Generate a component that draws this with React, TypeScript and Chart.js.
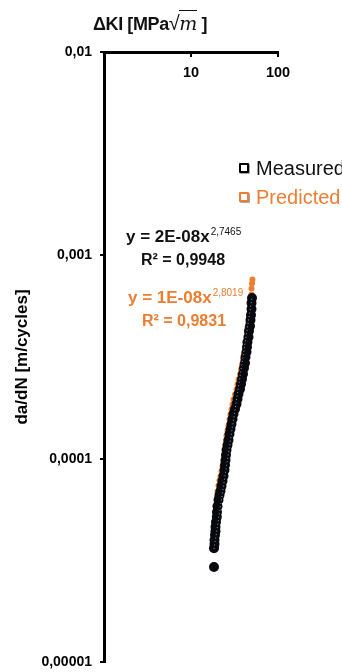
import React, { useEffect, useRef } from "react";
import { Chart, registerables } from "chart.js";

Chart.register(...registerables);

// ΔK [MPa√m]
const measuredK = [
  18.38, 18.38, 18.63, 18.63, 18.87, 19.12, 19.12, 19.38, 19.8, 19.9, 20.16, 20.71, 21.27, 21.83,
  22.42, 23.02, 23.64, 24.28, 24.6, 24.93, 25.26, 25.59, 26.28, 26.98, 27.71, 28.45, 29.21, 29.99,
  30.8, 32.04, 33.34, 34.23, 35.16, 36.58, 37.56, 38.57, 39.6, 40.67, 41.76, 42.31, 43.45, 44.03,
  44.61, 45.81, 46.42, 47.67, 48.3, 48.95, 49.6, 49.6, 50.24,
];
// da/dN [m/cycles]
const measuredRate = [
  2.93e-5, 3.63e-5, 3.8e-5, 3.98e-5, 4.21e-5, 4.4e-5, 4.61e-5, 4.88e-5, 5.16e-5, 5.46e-5, 5.84e-5,
  6.26e-5, 6.62e-5, 6.93e-5, 7.33e-5, 7.76e-5, 8.21e-5, 8.79e-5, 9.3e-5, 9.84e-5, 1.042e-4,
  1.102e-4, 1.166e-4, 1.234e-4, 1.321e-4, 1.398e-4, 1.479e-4, 1.566e-4, 1.657e-4, 1.754e-4,
  1.855e-4, 1.964e-4, 2.078e-4, 2.199e-4, 2.327e-4, 2.463e-4, 2.606e-4, 2.79e-4, 2.953e-4,
  3.16e-4, 3.344e-4, 3.539e-4, 3.745e-4, 3.963e-4, 4.242e-4, 4.489e-4, 4.805e-4, 5.085e-4,
  5.443e-4, 5.825e-4, 6.166e-4,
];

const predictedK = [
  18.38, 18.63, 18.63, 18.87, 19.12, 19.12, 19.38, 19.8, 19.9, 20.16, 20.71, 21.27, 21.83, 22.42,
  23.02, 23.64, 24.28, 24.6, 24.93, 25.26, 25.59, 26.28, 26.98, 27.71, 28.45, 29.21, 29.99, 30.8,
  32.04, 33.34, 34.23, 35.16, 36.58, 37.56, 38.57, 39.6, 40.67, 41.76, 42.31, 43.45, 44.03, 44.61,
  45.81, 46.42, 47.67, 48.3, 48.95, 49.6, 49.6, 50.24, 50.8,
];
const predictedRate = [
  4.28e-5, 4.48e-5, 4.7e-5, 4.97e-5, 5.19e-5, 5.44e-5, 5.76e-5, 6.09e-5, 6.44e-5, 6.89e-5,
  7.39e-5, 7.81e-5, 8.18e-5, 8.65e-5, 9.16e-5, 9.69e-5, 1.037e-4, 1.097e-4, 1.161e-4, 1.23e-4,
  1.3e-4, 1.376e-4, 1.456e-4, 1.559e-4, 1.65e-4, 1.745e-4, 1.848e-4, 1.955e-4, 2.07e-4, 2.189e-4,
  2.318e-4, 2.452e-4, 2.595e-4, 2.746e-4, 2.906e-4, 3.075e-4, 3.292e-4, 3.485e-4, 3.729e-4,
  3.946e-4, 4.176e-4, 4.419e-4, 4.676e-4, 5.006e-4, 5.297e-4, 5.67e-4, 6.0e-4, 6.423e-4,
  6.874e-4, 7.276e-4, 7.6e-4,
];

// Trendline end points (measured power fit)
const trendK = [18.4, 50.2];
const trendRate = [3.6e-5, 6.2e-4];

const yTickValues = [1e-5, 1e-4, 1e-3, 1e-2];
const yTickLabels = ["0,00001", "0,0001", "0,001", "0,01"];
const xTickValues = [10, 100];
const xTickLabels = ["10", "100"];

const seriesNames = ["Measured", "Predicted"];
const ORANGE = "#ED7D31";
const FONT = '"Liberation Sans", Arial, sans-serif';

const xTicksPlugin = {
  id: "xTicksInside",
  afterDraw(chart: any) {
    const { ctx, chartArea } = chart;
    const x = chart.scales.x;
    ctx.save();
    ctx.strokeStyle = "#000";
    ctx.lineWidth = 2;
    xTickValues.forEach((v) => {
      const px = x.getPixelForValue(v);
      ctx.beginPath();
      ctx.moveTo(px, chartArea.top);
      ctx.lineTo(px, chartArea.top + 5);
      ctx.stroke();
    });
    ctx.fillStyle = "#000";
    ctx.font = `bold 14.5px ${FONT}`;
    ctx.textAlign = "center";
    ctx.textBaseline = "middle";
    xTickValues.forEach((v, i) => {
      const px = x.getPixelForValue(v);
      ctx.fillText(xTickLabels[i], px, chartArea.top + 21);
    });
    ctx.restore();
  },
};

export default function App() {
  const ref = useRef<HTMLCanvasElement | null>(null);

  useEffect(() => {
    document.body.style.margin = "0";
    document.body.style.overflow = "hidden";
    const canvas = ref.current;
    if (!canvas) return;
    const chart = new Chart(canvas, {
      type: "scatter",
      data: {
        datasets: [
          {
            label: "trend",
            data: trendK.map((k, i) => ({ x: k, y: trendRate[i] })),
            showLine: true,
            borderColor: "rgba(160,180,215,0.85)",
            borderDash: [1, 2.5],
            borderWidth: 1,
            pointRadius: 0,
            order: 0,
          } as any,
          {
            label: seriesNames[0],
            data: measuredK.map((k, i) => ({ x: k, y: measuredRate[i] })),
            backgroundColor: "#08080f",
            borderColor: "#08080f",
            borderWidth: 0,
            pointRadius: 5,
            order: 1,
          },
          {
            label: seriesNames[1],
            data: predictedK.map((k, i) => ({ x: k, y: predictedRate[i] })),
            backgroundColor: ORANGE,
            borderColor: ORANGE,
            borderWidth: 0,
            pointRadius: 3,
            order: 2,
          },
        ],
      },
      options: {
        responsive: false,
        devicePixelRatio: 1,
        animation: false,
        layout: { padding: { top: 0, left: 0, right: 64, bottom: 10 } },
        plugins: { legend: { display: false }, tooltip: { enabled: false } },
        scales: {
          x: {
            type: "logarithmic",
            position: "top",
            min: 1,
            max: 100,
            ticks: { display: false },
            grid: { display: false },
            border: { display: true, color: "#000", width: 3 },
            afterFit: (s: any) => {
              s.height = 52;
              s.paddingLeft = 0;
              s.paddingRight = 0;
            },
          },
          y: {
            type: "logarithmic",
            min: 1e-5,
            max: 1e-2,
            afterBuildTicks: (s: any) => {
              s.ticks = yTickValues.map((v) => ({ value: v }));
            },
            ticks: {
              color: "#000",
              font: { family: FONT, size: 14, weight: "bold" },
              padding: 8,
              callback: (v: any) => {
                const i = yTickValues.findIndex((t) => Math.abs(t - v) / t < 1e-6);
                return i >= 0 ? yTickLabels[i] : "";
              },
            },
            grid: {
              display: true,
              drawOnChartArea: false,
              drawTicks: true,
              tickLength: 4,
              color: "#000",
              lineWidth: 2,
            },
            border: { display: true, color: "#000", width: 3 },
            title: {
              display: true,
              text: "da/dN [m/cycles]",
              color: "#000",
              font: { family: FONT, size: 17, weight: "bold" },
              padding: { top: 12, bottom: 0 },
            },
            afterFit: (s: any) => {
              s.width = 104;
              s.paddingTop = 0;
              s.paddingBottom = 0;
            },
          },
        },
      } as any,
      plugins: [xTicksPlugin],
    });
    return () => chart.destroy();
  }, []);

  const abs = (left: number, centerY: number, extra: React.CSSProperties = {}): React.CSSProperties => ({
    position: "absolute",
    left,
    top: centerY - 10,
    lineHeight: "20px",
    whiteSpace: "nowrap",
    fontFamily: FONT,
    ...extra,
  });

  const eqStyle: React.CSSProperties = { fontWeight: "bold", fontSize: 17 };
  const r2Style: React.CSSProperties = { fontWeight: "bold", fontSize: 16 };
  const supStyle: React.CSSProperties = {
    fontSize: 10,
    fontWeight: "normal",
    position: "relative",
    top: -7,
    marginLeft: 1,
  };
  const sq = (top: number, color: string): React.CSSProperties => ({
    position: "absolute",
    left: 239,
    top,
    width: 6,
    height: 6,
    border: `2px solid ${color}`,
    background: "#fff",
    boxShadow: "1px 1px 0 rgba(0,0,0,0.35)",
    borderRadius: 1,
  });

  return (
    <div style={{ position: "relative", width: 342, height: 672, overflow: "hidden", background: "#fff" }}>
      <canvas ref={ref} width={342} height={672} style={{ display: "block" }} />
      {/* Axis title */}
      <div style={abs(93, 23, { fontWeight: "bold", fontSize: 18, color: "#111", letterSpacing: -0.4 })}>
        ΔKI [MPa
        <span style={{ fontWeight: "normal", fontSize: 20 }}>√</span>
        <span
          style={{
            fontFamily: '"DejaVu Serif", "Liberation Serif", serif',
            fontStyle: "italic",
            fontWeight: "normal",
            fontSize: 19,
            borderTop: "1.5px solid #111",
            paddingTop: 1,
          }}
        >
          m
        </span>{" "}
        ]
      </div>
      {/* Legend */}
      <div style={sq(163, "#000")} />
      <div style={abs(256, 168, { fontSize: 20, color: "#111" })}>{seriesNames[0]}</div>
      <div style={sq(192, ORANGE)} />
      <div style={abs(256, 197, { fontSize: 20, color: ORANGE })}>{seriesNames[1]}</div>
      {/* Equations */}
      <div style={abs(126, 237, { ...eqStyle, color: "#111" })}>
        y = 2E-08x<span style={supStyle}>2,7465</span>
      </div>
      <div style={abs(141, 260, { ...r2Style, color: "#111" })}>R² = 0,9948</div>
      <div style={abs(128, 298, { ...eqStyle, color: ORANGE })}>
        y = 1E-08x<span style={supStyle}>2,8019</span>
      </div>
      <div style={abs(142, 321, { ...r2Style, color: ORANGE })}>R² = 0,9831</div>
    </div>
  );
}
